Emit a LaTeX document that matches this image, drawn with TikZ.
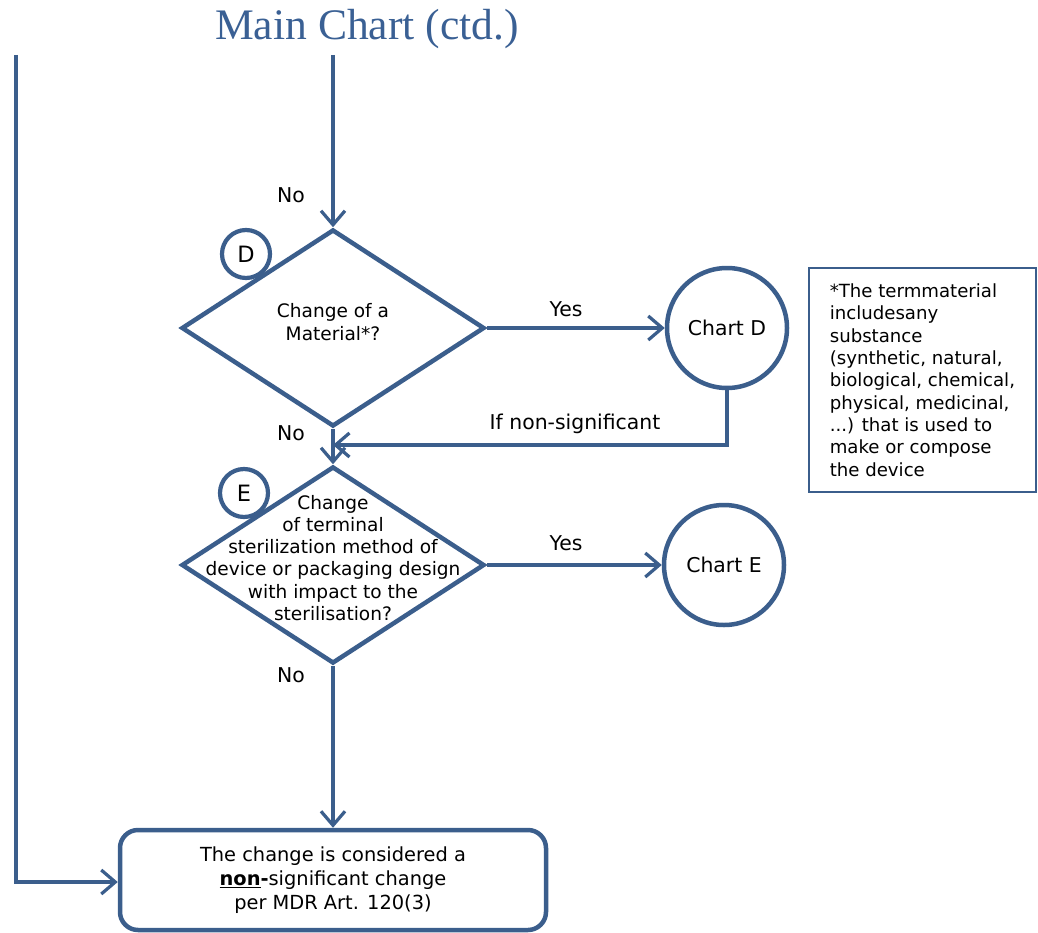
\documentclass[tikz,border=0pt]{standalone}
\usepackage{fontspec}
\setmainfont{DejaVu Sans}
\newfontfamily\titlefont{Liberation Serif}
\usepackage{xcolor}
\usetikzlibrary{
    arrows.meta,
    shapes.geometric
}
\definecolor{chartblue}{RGB}{59,94,140}
\definecolor{titleblue}{RGB}{58,96,148}

\begin{document}
\begin{tikzpicture}[
    every node/.style={font=\fontsize{14.5}{17}\selectfont},
    decision/.style={
        diamond,
        draw=chartblue,
        line width=3.2pt,
        fill=white,
        minimum width=7.575cm,
        minimum height=4.925cm,
        inner sep=0pt
    },
    qtext/.style={
        align=center,
        font=\fontsize{13.2}{15.8}\selectfont
    },
    marker/.style={
        circle,
        draw=chartblue,
        line width=3pt,
        fill=white,
        minimum size=1.2cm,
        inner sep=0pt,
        font=\fontsize{16}{18}\selectfont
    },
    chartref/.style={
        circle,
        draw=chartblue,
        line width=3.2pt,
        minimum size=3cm,
        inner sep=0pt
    },
    flow/.style={
        -{Straight Barb[length=3.5mm,width=6mm]},
        draw=chartblue,
        line width=2.3pt
    }
]
    \useasboundingbox (0,0) rectangle (25.95,-23.325);

    % Title
    \node[font=\titlefont\fontsize{31}{36}\selectfont, text=titleblue]
        (title) at (9.175,-0.72) {Main Chart (ctd.)};

    % Incoming lines
    \coordinate (leftin) at (0.4,-1.375);
    \coordinate (mainin) at (8.325,-1.375);

    % Decision D
    \node[decision] (matD) at (8.325,-8.2) {};
    \node[qtext, yshift=1.5mm] (matDtxt) at (matD) {Change of a\\Material*?};
    \node[marker] (markD) at (6.15,-6.35) {D};

    % Decision E
    \node[decision] (sterE) at (8.325,-14.125) {};
    \node[qtext, yshift=1.8mm] (sterEtxt) at (sterE) {Change\\of terminal\\sterilization method of\\device or packaging design\\with impact to the\\sterilisation?};
    \node[marker] (markE) at (6.1,-12.325) {E};

    % Sub charts
    \node[chartref] (chartD) at (18.175,-8.2) {Chart D};
    \node[chartref] (chartE) at (18.1,-14.125) {Chart E};

    % Result
    \node[
        rectangle,
        rounded corners=4.5mm,
        draw=chartblue,
        line width=3.2pt,
        minimum width=10.65cm,
        minimum height=2.5cm,
        align=center,
        font=\fontsize{13.8}{17.3}\selectfont
    ] (result) at (8.325,-22.0) {
        The change is considered a\\
        \underline{\textbf{non}}\textbf{-}significant change\\
        per MDR Art. 120(3)
    };

    % Footnote on material
    \node[
        draw=chartblue,
        line width=1.3pt,
        minimum width=5.675cm,
        minimum height=5.6cm,
        align=left,
        font=\fontsize{12.9}{15.9}\selectfont
    ] (note) at (23.06,-9.5) {
        *The termmaterial\\
        includesany\\
        substance\\
        (synthetic, natural,\\
        biological, chemical,\\
        physical, medicinal,\\
        ...) that is used to\\
        make or compose\\
        the device
    };

    % Connectors
    \coordinate (joinE) at (8.325,-11.125);
    \draw[flow] (mainin) -- (matD.north);
    \draw[flow] (matD.east) -- (chartD.west);
    \draw[flow] (chartD.south) |- (joinE);
    \draw[flow] (matD.south) -- (sterE.north);
    \draw[flow] (sterE.east) -- (chartE.west);
    \draw[flow] (sterE.south) -- (result.north);
    \draw[flow] (leftin) |- ([yshift=-0.5mm]result.west);

    % Labels
    \node (noA) at (7.275,-4.875) {No};
    \node (noB) at (7.275,-10.825) {No};
    \node (noC) at (7.275,-16.875) {No};
    \node (yesD) at (14.15,-7.725) {Yes};
    \node (yesE) at (14.15,-13.575) {Yes};
    \node (ifns) at (14.375,-10.6) {If non-significant};

\end{tikzpicture}
\end{document}
